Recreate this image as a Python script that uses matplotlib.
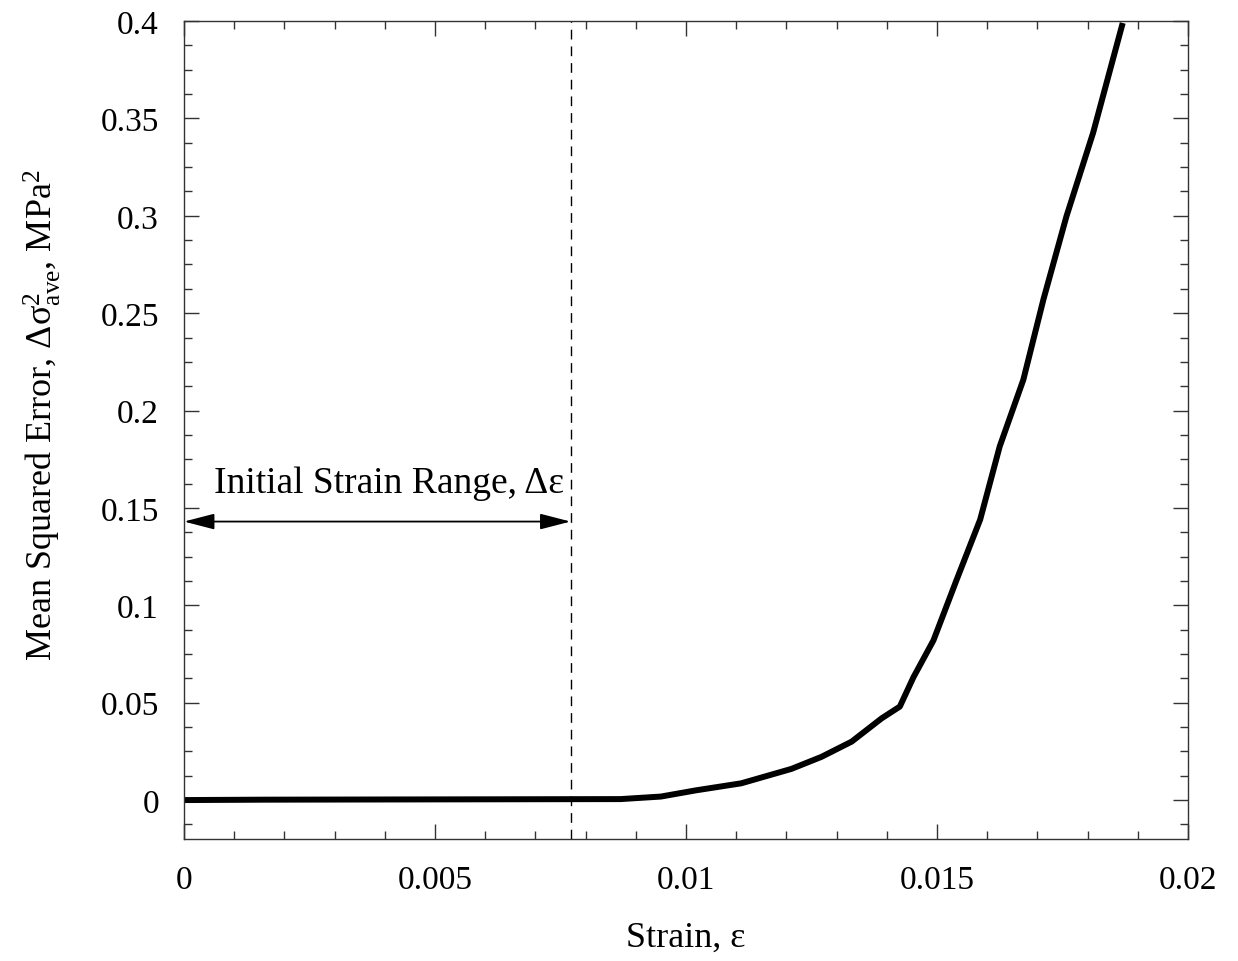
import matplotlib
matplotlib.use('Agg')
import matplotlib.pyplot as plt
from matplotlib.ticker import MultipleLocator

# fonts: Times-like serif for everything
plt.rcParams['font.family'] = 'Liberation Serif'
plt.rcParams['mathtext.fontset'] = 'custom'
plt.rcParams['mathtext.rm'] = 'Liberation Serif'
plt.rcParams['mathtext.it'] = 'Liberation Serif:italic'

# data
strain = [0, 0.0016, 0.0087, 0.0095, 0.0102, 0.0111, 0.0121, 0.0127,
          0.0133, 0.0139, 0.01426, 0.01453, 0.01493, 0.01539, 0.01586,
          0.01625, 0.01672, 0.01712, 0.01758, 0.01811, 0.0187]
mse = [0, 0.0002, 0.0005, 0.0018, 0.005, 0.0086, 0.016, 0.0222,
       0.030, 0.042, 0.048, 0.063, 0.082, 0.113, 0.144,
       0.1816, 0.2158, 0.257, 0.2998, 0.3426, 0.399]

xticks = [0, 0.005, 0.01, 0.015, 0.02]
xticklabels = ['0', '0.005', '0.01', '0.015', '0.02']
yticks = [0, 0.05, 0.1, 0.15, 0.2, 0.25, 0.3, 0.35, 0.4]
yticklabels = ['0', '0.05', '0.1', '0.15', '0.2', '0.25', '0.3', '0.35', '0.4']

strain_range = 0.0077   # dashed line / arrow end
arrow_y = 0.143

fig = plt.figure(figsize=(12.38, 9.62), dpi=100)
ax = fig.add_axes([0.1486, 0.1268, 0.811, 0.8503])

ax.plot(strain, mse, color='black', lw=4.3, solid_capstyle='butt')
ax.axvline(strain_range, color='black', lw=1, ls=(0, (7, 5)))

# double arrow for the initial strain range
ax.annotate('', xy=(0, arrow_y), xytext=(strain_range, arrow_y),
            arrowprops=dict(arrowstyle='<|-|>,head_length=0.85,head_width=0.22',
                            mutation_scale=22, color='black', lw=1.3,
                            shrinkA=0, shrinkB=0))
ax.text(0.0006, 0.163, 'Initial Strain Range, Δε',
        fontsize=27, va='center', ha='left')

ax.set_xlim(0, 0.02)
ax.set_ylim(-0.02, 0.4)
ax.xaxis.set_minor_locator(MultipleLocator(0.001))
ax.yaxis.set_minor_locator(MultipleLocator(0.0125))
ax.set_xticks(xticks)
ax.set_xticklabels(xticklabels)
ax.set_yticks(yticks)
ax.set_yticklabels(yticklabels)

ax.tick_params(which='both', direction='in', top=True, right=True,
               labelsize=24, pad=18, color='#333333')
ax.tick_params(which='major', length=11, width=1)
ax.tick_params(which='minor', length=6, width=1)
for s in ax.spines.values():
    s.set_linewidth(1)
    s.set_color('#333333')

ax.set_xlabel('Strain, ε', fontsize=26)
ax.set_ylabel(r'Mean Squared Error, Δσ$^{2}_{\mathrm{ave}}$, MPa$^{2}$',
              fontsize=26)
ax.xaxis.set_label_coords(0.5, -0.1)
ax.yaxis.set_label_coords(-0.12, 0.52)

fig.savefig('out.png', dpi=100)
